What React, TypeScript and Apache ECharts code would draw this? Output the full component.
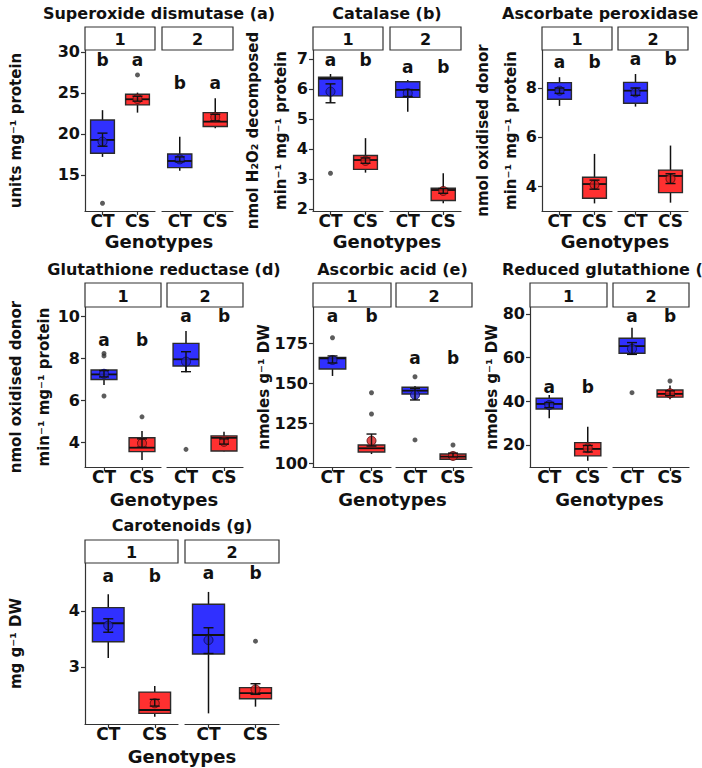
import { useEffect, useRef } from "react";
import * as echarts from "echarts";

const genotypes = ["CT", "CS"];
const facetLabels = ["1", "2"];

// Box rows: [lower whisker, Q1, median, Q3, upper whisker]
// Row order for every measure: facet 1 CT, facet 1 CS, facet 2 CT, facet 2 CS

// Superoxide dismutase (a)
const sodBoxes = [
  [17.2, 17.65, 19.27, 21.7, 22.9],
  [22.6, 23.54, 24.23, 24.84, 25.04],
  [15.52, 15.89, 16.7, 17.56, 19.67],
  [20.7, 20.9, 21.5, 22.6, 24.35],
];
const sodMeans = [19.06, 24.27, 16.9, 22.04];
const sodErrors = [[18.5, 20.1], [24.0, 24.6], [16.6, 17.2], [21.6, 22.4]];
const sodOutliers = [[11.55], [27.2], [], []];
const sodLetters = ["b", "a", "b", "a"];
const sodLetterY = [29.0, 29.0, 26.2, 26.2];
const sodTicks = [15, 20, 25, 30];

// Catalase (b)
const catBoxes = [
  [5.55, 5.77, 6.34, 6.39, 6.5],
  [3.21, 3.32, 3.63, 3.78, 4.36],
  [5.24, 5.72, 5.97, 6.24, 6.3],
  [2.19, 2.28, 2.63, 2.69, 3.19],
];
const catMeans = [5.91, 3.6, 5.86, 2.6];
const catErrors = [[5.54, 6.17], [3.52, 3.7], [5.75, 5.98], [2.52, 2.68]];
const catOutliers = [[3.19], [], [], []];
const catLetters = ["a", "b", "a", "b"];
const catLetterY = [6.95, 6.95, 6.74, 6.74];
const catTicks = [2, 3, 4, 5, 6, 7];

// Ascorbate peroxidase (c)
const apxBoxes = [
  [7.27, 7.54, 7.92, 8.22, 8.44],
  [3.29, 3.5, 4.08, 4.36, 5.31],
  [7.24, 7.38, 7.89, 8.23, 8.57],
  [3.32, 3.73, 4.41, 4.65, 5.65],
];
const apxMeans = [7.89, 4.05, 7.82, 4.29];
const apxErrors = [[7.78, 8.0], [3.87, 4.24], [7.7, 8.0], [4.1, 4.5]];
const apxOutliers = [[], [], [], []];
const apxLetters = ["a", "b", "a", "b"];
const apxLetterY = [9.07, 9.07, 9.17, 9.17];
const apxTicks = [4, 6, 8];

// Glutathione reductase (d)
const grBoxes = [
  [6.71, 6.98, 7.22, 7.43, 7.48],
  [3.14, 3.54, 3.73, 4.2, 4.52],
  [7.32, 7.62, 7.94, 8.7, 9.29],
  [3.55, 3.57, 4.2, 4.29, 4.49],
];
const grMeans = [7.25, 3.94, 7.83, 4.01];
const grErrors = [[7.1, 7.4], [3.75, 4.15], [7.35, 8.3], [3.9, 4.15]];
const grOutliers = [[8.22, 8.1, 6.19], [5.2], [3.65], []];
const grLetters = ["a", "b", "a", "b"];
const grLetterY = [8.86, 8.86, 10.0, 10.0];
const grTicks = [4, 6, 8, 10];

// Ascorbic acid (e)
const asaBoxes = [
  [154.4, 158.75, 165.4, 166.0, 166.9],
  [105.6, 106.9, 109.2, 111.25, 112.3],
  [139.4, 143.1, 145.2, 147.3, 148.1],
  [102.0, 102.3, 104.0, 105.6, 105.9],
];
const asaMeans = [164.4, 113.9, 142.5, 104.4];
const asaErrors = [[162.5, 166.9], [110.6, 118.1], [139.4, 146.5], [103.8, 106.2]];
const asaOutliers = [[178.3], [143.9, 130.6], [153.9, 114.4], [111.25]];
const asaLetters = ["a", "b", "a", "b"];
const asaLetterY = [192, 192, 165.4, 165.4];
const asaTicks = [100, 125, 150, 175];

// Reduced glutathione (f)
const gshBoxes = [
  [32.2, 36.5, 38.8, 41.4, 42.9],
  [12.8, 15.0, 18.2, 21.1, 28.4],
  [61.5, 62.0, 65.3, 68.9, 73.7],
  [40.9, 41.9, 43.4, 45.2, 47.2],
];
const gshMeans = [38.3, 18.5, 64.0, 43.7];
const gshErrors = [[37.1, 39.5], [16.8, 19.8], [61.5, 66.9], [42.6, 44.8]];
const gshOutliers = [[], [], [43.95], [49.3]];
const gshLetters = ["a", "b", "a", "b"];
const gshLetterY = [46.4, 46.4, 79.2, 79.2];
const gshTicks = [20, 40, 60, 80];

// Carotenoids (g)
const carBoxes = [
  [3.16, 3.45, 3.78, 4.06, 4.3],
  [2.11, 2.17, 2.23, 2.55, 2.66],
  [2.17, 3.23, 3.57, 4.12, 4.34],
  [2.29, 2.43, 2.53, 2.63, 2.69],
];
const carMeans = [3.74, 2.35, 3.48, 2.6];
const carErrors = [[3.62, 3.86], [2.3, 2.42], [3.24, 3.7], [2.51, 2.7]];
const carOutliers = [[], [], [], [3.46]];
const carLetters = ["a", "b", "a", "b"];
const carLetterY = [4.63, 4.63, 4.67, 4.67];
const carTicks = [3, 4];

const measures = [
  { title: "Superoxide dismutase (a)", yTitle: "units mg\u207B\u00B9 protein", boxes: sodBoxes, means: sodMeans, errors: sodErrors, outliers: sodOutliers, letters: sodLetters, letterY: sodLetterY, ticks: sodTicks, yMin: 10.6, yMax: 30.24 },
  { title: "Catalase (b)", yTitle: "nmol H\u2082O\u2082 decomposed\nmin\u207B\u00B9 mg\u207B\u00B9 protein", boxes: catBoxes, means: catMeans, errors: catErrors, outliers: catOutliers, letters: catLetters, letterY: catLetterY, ticks: catTicks, yMin: 1.93, yMax: 7.3 },
  { title: "Ascorbate peroxidase (c)", yTitle: "nmol oxidised donor\nmin\u207B\u00B9 mg\u207B\u00B9 protein", boxes: apxBoxes, means: apxMeans, errors: apxErrors, outliers: apxOutliers, letters: apxLetters, letterY: apxLetterY, ticks: apxTicks, yMin: 2.98, yMax: 9.55 },
  { title: "Glutathione reductase (d)", yTitle: "nmol oxidised donor\nmin\u207B\u00B9 mg\u207B\u00B9 protein", boxes: grBoxes, means: grMeans, errors: grErrors, outliers: grOutliers, letters: grLetters, letterY: grLetterY, ticks: grTicks, yMin: 2.81, yMax: 10.43 },
  { title: "Ascorbic acid (e)", yTitle: "nmoles g\u207B\u00B9 DW", boxes: asaBoxes, means: asaMeans, errors: asaErrors, outliers: asaOutliers, letters: asaLetters, letterY: asaLetterY, ticks: asaTicks, yMin: 97.5, yMax: 197.5 },
  { title: "Reduced glutathione (f)", yTitle: "nmoles g\u207B\u00B9 DW", boxes: gshBoxes, means: gshMeans, errors: gshErrors, outliers: gshOutliers, letters: gshLetters, letterY: gshLetterY, ticks: gshTicks, yMin: 9.92, yMax: 83.2 },
  { title: "Carotenoids (g)", yTitle: "mg g\u207B\u00B9 DW", boxes: carBoxes, means: carMeans, errors: carErrors, outliers: carOutliers, letters: carLetters, letterY: carLetterY, ticks: carTicks, yMin: 1.98, yMax: 4.857 },
];

// Page placement of each panel (pixels)
const layouts = [
  { left: [85, 162], width: [70, 71], top: 50, height: 161, stripH: 23, titleY: 13, genoY: 241, yTitleX: 16 },
  { left: [313, 390], width: [70, 71], top: 50, height: 161, stripH: 23, titleY: 13, genoY: 241, yTitleX: 267 },
  { left: [542, 618], width: [70, 70], top: 50, height: 161, stripH: 23, titleY: 13, genoY: 241, yTitleX: 497 },
  { left: [85, 167], width: [76, 76], top: 307, height: 160, stripH: 24, titleY: 269, genoY: 499, yTitleX: 30 },
  { left: [313, 396], width: [78, 76], top: 307, height: 160, stripH: 24, titleY: 269, genoY: 499, yTitleX: 264 },
  { left: [530, 613], width: [77, 76], top: 307, height: 160, stripH: 24, titleY: 269, genoY: 499, yTitleX: 492 },
  { left: [85, 185], width: [93, 94], top: 563, height: 161, stripH: 23, titleY: 525, genoY: 756, yTitleX: 16 },
];

const FONT = '"DejaVu Sans", "Liberation Sans", sans-serif';
const INK = "#111111";
const AXIS = "#333333";
const BOX_FILL = ["#3030ff", "#ff3030"];
const MEAN_FILL = ["#2626d0", "#d92020"];
const MEAN_EDGE = ["#0a0a55", "#550a0a"];

function textEl(text: string, x: number, y: number, size: number, rotation = 0, lineHeight?: number) {
  return {
    type: "text",
    x,
    y,
    rotation,
    silent: true,
    z: 10,
    style: {
      text,
      fill: INK,
      fontSize: size,
      fontWeight: "bold",
      fontFamily: FONT,
      align: "center",
      verticalAlign: "middle",
      textAlign: "center",
      textVerticalAlign: "middle",
      lineHeight: lineHeight ?? size * 1.2,
    },
  };
}

function buildOption() {
  const grid: any[] = [];
  const xAxis: any[] = [];
  const yAxis: any[] = [];
  const series: any[] = [];
  const graphic: any[] = [];

  measures.forEach((m, p) => {
    const L = layouts[p];
    const centerX = (L.left[0] + L.left[1] + L.width[1]) / 2;
    graphic.push(textEl(m.title, centerX, L.titleY, 16));
    graphic.push(textEl("Genotypes", centerX, L.genoY, 18));
    graphic.push(textEl(m.yTitle, L.yTitleX, L.top + L.height / 2, 15, Math.PI / 2, 28));

    [0, 1].forEach((f) => {
      const gi = p * 2 + f;
      grid.push({ left: L.left[f], top: L.top, width: L.width[f], height: L.height, containLabel: false });

      // facet strip
      graphic.push({
        type: "rect",
        silent: true,
        z: 5,
        shape: { x: L.left[f], y: L.top - L.stripH, width: L.width[f], height: L.stripH },
        style: { fill: "#ffffff", stroke: AXIS, lineWidth: 1.2 },
      });
      graphic.push(textEl(facetLabels[f], L.left[f] + L.width[f] / 2, L.top - L.stripH / 2 + 1, 16));

      xAxis.push({
        type: "category",
        gridIndex: gi,
        data: genotypes,
        boundaryGap: true,
        axisLine: { show: true, lineStyle: { color: AXIS, width: 1.2 } },
        axisTick: { show: true, alignWithLabel: true, length: 4, lineStyle: { color: AXIS, width: 1.2 } },
        axisLabel: { show: true, color: INK, fontSize: 17, fontWeight: "bold", fontFamily: FONT, margin: 1, lineHeight: 17 },
        splitLine: { show: false },
      });
      yAxis.push({
        type: "value",
        gridIndex: gi,
        min: m.yMin,
        max: m.yMax,
        show: f === 0,
        axisLine: { show: true, lineStyle: { color: AXIS, width: 1.2 } },
        axisTick: { show: true, length: 4, customValues: m.ticks, lineStyle: { color: AXIS, width: 1.2 } },
        axisLabel: { show: true, customValues: m.ticks, color: INK, fontSize: 16, fontWeight: "bold", fontFamily: FONT, margin: 5 },
        splitLine: { show: false },
      });

      const rows = [0, 1].map((c) => f * 2 + c);

      // boxes with whiskers and median
      series.push({
        type: "custom",
        xAxisIndex: gi,
        yAxisIndex: gi,
        silent: true,
        z: 2,
        encode: { x: 0, y: [1, 2, 3, 4, 5] },
        data: rows.map((r, c) => [c, ...m.boxes[r]]),
        renderItem: (_params: any, api: any) => {
          const c = api.value(0);
          const lo = api.coord([c, api.value(1)]);
          const q1 = api.coord([c, api.value(2)]);
          const med = api.coord([c, api.value(3)]);
          const q3 = api.coord([c, api.value(4)]);
          const hi = api.coord([c, api.value(5)]);
          const w = api.size([1, 0])[0] * 0.68;
          const x = q1[0];
          const stroke = { stroke: INK, lineWidth: 1.5 };
          return {
            type: "group",
            children: [
              { type: "line", shape: { x1: x, y1: lo[1], x2: x, y2: q1[1] }, style: stroke },
              { type: "line", shape: { x1: x, y1: q3[1], x2: x, y2: hi[1] }, style: stroke },
              {
                type: "rect",
                shape: { x: x - w / 2, y: q3[1], width: w, height: q1[1] - q3[1] },
                style: { fill: BOX_FILL[c], stroke: "#2b2b2b", lineWidth: 1.4 },
              },
              { type: "line", shape: { x1: x - w / 2, y1: med[1], x2: x + w / 2, y2: med[1] }, style: { stroke: "#111", lineWidth: 1.8 } },
            ],
          };
        },
      });

      // outliers
      const outData: number[][] = [];
      rows.forEach((r, c) => m.outliers[r].forEach((v) => outData.push([c, v])));
      series.push({
        type: "scatter",
        xAxisIndex: gi,
        yAxisIndex: gi,
        silent: true,
        z: 3,
        symbolSize: 5,
        itemStyle: { color: "#333333" },
        data: outData,
      });

      // group means
      series.push({
        type: "scatter",
        xAxisIndex: gi,
        yAxisIndex: gi,
        silent: true,
        z: 4,
        symbolSize: 9,
        data: rows.map((r, c) => ({
          value: [c, m.means[r]],
          itemStyle: { color: MEAN_FILL[c], borderColor: MEAN_EDGE[c], borderWidth: 1 },
        })),
      });

      // error bars around the means
      series.push({
        type: "custom",
        xAxisIndex: gi,
        yAxisIndex: gi,
        silent: true,
        z: 5,
        encode: { x: 0, y: [1, 2] },
        data: rows.map((r, c) => [c, m.errors[r][0], m.errors[r][1]]),
        renderItem: (_params: any, api: any) => {
          const c = api.value(0);
          const lo = api.coord([c, api.value(1)]);
          const hi = api.coord([c, api.value(2)]);
          const hw = 5;
          const st = { stroke: "#111", lineWidth: 1.4 };
          return {
            type: "group",
            children: [
              { type: "line", shape: { x1: lo[0], y1: lo[1], x2: hi[0], y2: hi[1] }, style: st },
              { type: "line", shape: { x1: lo[0] - hw, y1: lo[1], x2: lo[0] + hw, y2: lo[1] }, style: st },
              { type: "line", shape: { x1: hi[0] - hw, y1: hi[1], x2: hi[0] + hw, y2: hi[1] }, style: st },
            ],
          };
        },
      });

      // significance letters
      series.push({
        type: "custom",
        xAxisIndex: gi,
        yAxisIndex: gi,
        silent: true,
        z: 6,
        encode: { x: 0, y: 1 },
        data: rows.map((r, c) => [c, m.letterY[r]]),
        renderItem: (params: any, api: any) => {
          const pt = api.coord([api.value(0), api.value(1)]);
          return {
            type: "text",
            x: pt[0],
            y: pt[1],
            style: {
              text: m.letters[rows[params.dataIndex]],
              fill: INK,
              fontSize: 17,
              fontWeight: "bold",
              fontFamily: FONT,
              align: "center",
              verticalAlign: "middle",
            },
          };
        },
      });
    });
  });

  return {
    animation: false,
    backgroundColor: "#ffffff",
    grid,
    xAxis,
    yAxis,
    series,
    graphic,
  };
}

export default function App() {
  const ref = useRef<HTMLDivElement>(null);
  useEffect(() => {
    if (!ref.current) return;
    const chart = echarts.init(ref.current, null, { renderer: "svg" });
    chart.setOption(buildOption() as any);
    return () => chart.dispose();
  }, []);
  return (
    <div
      ref={ref}
      style={{ position: "absolute", left: 0, top: 0, width: 702, height: 768, background: "#fff" }}
    />
  );
}
